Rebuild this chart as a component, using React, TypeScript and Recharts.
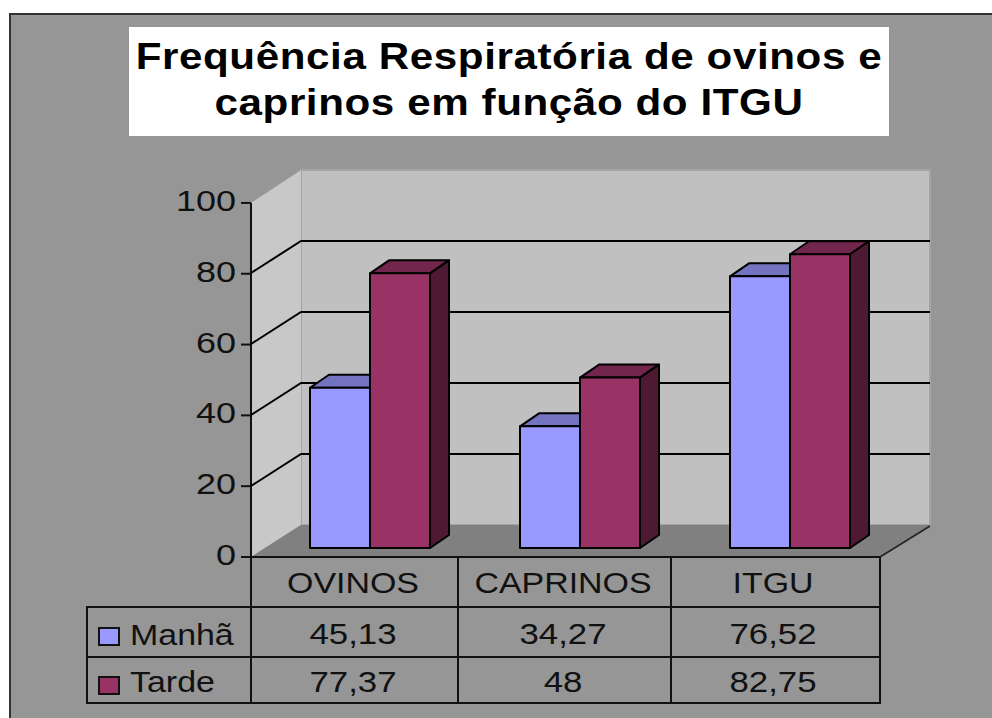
import React from "react";
import { BarChart, Bar, XAxis, YAxis, CartesianGrid, Legend } from "recharts";

const categories = ["OVINOS", "CAPRINOS", "ITGU"];
const manha = [45.13, 34.27, 76.52];
const tarde = [77.37, 48, 82.75];
const yTicks = [0, 20, 40, 60, 80, 100];
const wallLines = [20, 40, 60, 80];
const titleLines = ["Frequência Respiratória de ovinos e", "caprinos em função do ITGU"];

const data = categories.map((name, i) => ({ name, manha: manha[i], tarde: tarde[i] }));

const FONT = "'Liberation Sans', Arial, sans-serif";
const DX = 19;
const DY = 13;
const BG = "#969696";

const fmt = (v: number) => String(v).replace(".", ",");

// the front face comes from the scale, the top and side are just offset from it
const box3d = (top: string, side: string) => (props: any) => {
  const { x, y, width: w, height: h, fill } = props;
  return (
    <g stroke="#000" strokeWidth={2} strokeLinejoin="round">
      <polygon points={`${x},${y} ${x + DX},${y - DY} ${x + w + DX},${y - DY} ${x + w},${y}`} fill={top} />
      <polygon points={`${x + w},${y} ${x + w + DX},${y - DY} ${x + w + DX},${y + h - DY} ${x + w},${y + h}`} fill={side} />
      <rect x={x} y={y} width={w} height={h} fill={fill} />
    </g>
  );
};

// gridline on the back wall, continued down the side wall
const WallLine = (props: any) => {
  const y = props.y1;
  return (
    <polyline
      key={props.key ?? y}
      points={`251,${y + 32} 301,${y} 930,${y}`}
      fill="none"
      stroke="#000"
      strokeWidth={2}
    />
  );
};

// the reference text is stretched sideways, so scale x only
const Stretched = ({ x, y, anchor, size, sx, children }: any) => (
  <text
    transform={`translate(${x},${y}) scale(${sx},1)`}
    textAnchor={anchor}
    style={{ fontFamily: FONT, fontSize: size, fill: "#111" }}
  >
    {children}
  </text>
);

const ValueTick = (props: any) => (
  <Stretched x={236} y={props.y + 8} anchor="end" size={30} sx={1.2}>
    {props.payload.value}
  </Stretched>
);

// category label plus the two table rows under it
const TableTick = (props: any) => {
  const { x, index } = props;
  const cx = x - 17;
  return (
    <g>
      <Stretched x={cx} y={593} anchor="middle" size={29} sx={1.17}>{categories[index]}</Stretched>
      <Stretched x={cx} y={644} anchor="middle" size={29} sx={1.2}>{fmt(manha[index])}</Stretched>
      <Stretched x={cx} y={692} anchor="middle" size={29} sx={1.2}>{fmt(tarde[index])}</Stretched>
    </g>
  );
};

const LegendRows = (props: any) => (
  <div style={{ position: "absolute", left: 0, top: 0 }}>
    {(props.payload || []).map((p: any, i: number) => (
      <div key={p.value}>
        <div
          style={{
            position: "absolute",
            left: 98,
            top: 627 + i * 49,
            width: 18,
            height: 15,
            background: p.color,
            border: "2px solid #111",
            boxSizing: "content-box",
          }}
        />
        <div
          style={{
            position: "absolute",
            left: 130,
            top: 619 + i * 47,
            fontFamily: FONT,
            fontSize: 29,
            color: "#111",
            lineHeight: "32px",
            whiteSpace: "nowrap",
            transform: "scaleX(1.17)",
            transformOrigin: "left center",
          }}
        >
          {p.value}
        </div>
      </div>
    ))}
  </div>
);

const Backdrop = () => (
  <svg width={992} height={718} style={{ position: "absolute", left: 0, top: 0 }}>
    <rect x={10} y={14} width={990} height={710} fill={BG} stroke="#333" strokeWidth={2} />
    <polygon points="301,170 930,170 930,525 301,525" fill="#c0c0c0" stroke="#a4a4a4" strokeWidth={2} />
    <polygon points="251,203 301,170 301,525 251,557" fill="#c8c8c8" />
    <polygon points="251,557 301,525 930,525 880,557" fill="#808080" />
    <line x1={880} y1={557} x2={930} y2={526} stroke="#222" strokeWidth={1.5} />
    <g stroke="#111" strokeWidth={2} fill="none">
      <line x1={251} y1={203} x2={251} y2={703} />
      <line x1={241} y1={557} x2={880} y2={557} />
      <rect x={87} y={607} width={793} height={96} />
      <line x1={87} y1={657} x2={880} y2={657} />
      <line x1={458} y1={557} x2={458} y2={703} />
      <line x1={671} y1={557} x2={671} y2={703} />
      <line x1={880} y1={557} x2={880} y2={703} />
    </g>
  </svg>
);

export default function App() {
  return (
    <div style={{ position: "absolute", left: 0, top: 0, width: 992, height: 718, overflow: "hidden", background: "#fff" }}>
      <Backdrop />
      <div style={{ position: "absolute", left: 129, top: 27, width: 760, height: 109, background: "#fff" }}>
        {titleLines.map((t, i) => (
          <div
            key={t}
            style={{
              position: "absolute",
              left: 0,
              width: 760,
              top: 7 + i * 46,
              textAlign: "center",
              fontFamily: FONT,
              fontWeight: 700,
              fontSize: 37,
              lineHeight: "46px",
              whiteSpace: "nowrap",
              letterSpacing: 0.5,
              color: "#000",
              transform: "scaleX(1.14)",
            }}
          >
            {t}
          </div>
        ))}
      </div>
      <div style={{ position: "absolute", left: 0, top: 0 }}>
        <BarChart
          width={992}
          height={718}
          data={data}
          margin={{ top: 170, right: 62, left: 0, bottom: 11 }}
          barCategoryGap={45}
          barGap={0}
          style={{ background: "transparent" }}
        >
          <CartesianGrid yAxisId="back" vertical={false} horizontalValues={wallLines} horizontal={WallLine} />
          <XAxis
            dataKey="name"
            height={150}
            padding={{ left: 14, right: 35 }}
            axisLine={false}
            tickLine={false}
            interval={0}
            tick={TableTick}
          />
          <YAxis
            yAxisId="front"
            width={251}
            domain={[0, 109.3]}
            ticks={yTicks}
            allowDataOverflow
            axisLine={false}
            tickSize={10}
            tickLine={{ stroke: "#111", strokeWidth: 2 }}
            tick={ValueTick}
          />
          <YAxis yAxisId="back" hide width={0} domain={[-9.014, 100]} allowDataOverflow />
          <YAxis yAxisId="bars" hide width={0} domain={[-2.535, 106.48]} allowDataOverflow />
          <Legend layout="vertical" align="center" verticalAlign="middle" wrapperStyle={{ left: 0, top: 0, width: 0, height: 0 }} content={LegendRows} />
          <Bar yAxisId="bars" dataKey="manha" name="Manhã" fill="#9999ff" shape={box3d("#7373bf", "#5c5c99")} isAnimationActive={false} />
          <Bar yAxisId="bars" dataKey="tarde" name="Tarde" fill="#993366" shape={box3d("#73264d", "#4d1933")} isAnimationActive={false} />
        </BarChart>
      </div>
    </div>
  );
}
